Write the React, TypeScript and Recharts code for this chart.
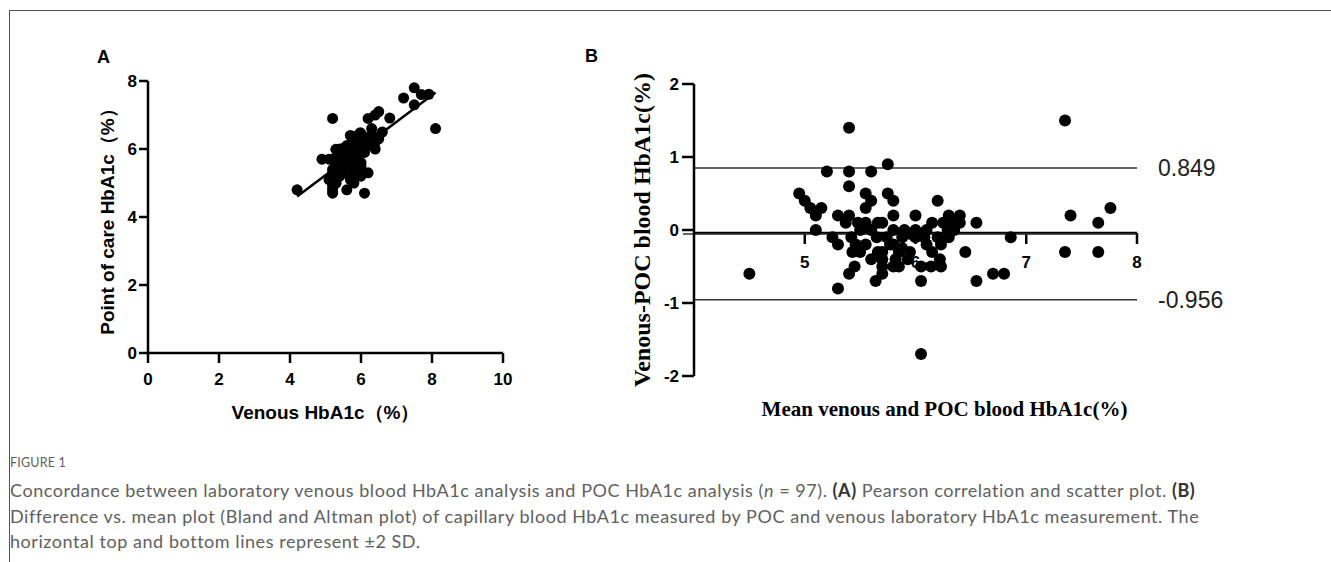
import React from 'react';
import { ScatterChart, Scatter, XAxis, YAxis, ReferenceLine } from 'recharts';

// Panel B (Bland-Altman): mean of venous and POC vs difference venous - POC
const meanVals = [
  4.50, 5.40, 5.20, 5.40, 5.60, 5.75, 5.40, 4.95, 5.00, 5.05,
  5.10, 5.15, 5.10, 5.55, 5.60, 5.55, 5.30, 5.40, 5.75, 5.80,
  5.80, 5.25, 5.30, 5.42, 5.46, 5.43, 5.45, 5.40, 5.30, 5.48,
  5.55, 5.60, 5.66, 5.37, 5.50, 5.60, 5.66, 5.70, 5.70, 5.64,
  6.00, 6.00, 6.00, 5.85, 5.85, 5.93, 6.05, 6.05, 6.05, 6.20,
  6.30, 6.40, 6.25, 6.33, 6.55, 6.45, 6.55, 6.70, 6.15, 6.22,
  6.14, 6.23, 7.35, 7.40, 7.65, 7.76, 7.35, 7.65, 6.86, 6.80,
  6.23, 6.30, 6.29, 6.20, 5.95, 5.88, 5.80, 5.74, 5.80, 5.70,
  5.88, 6.08, 5.77, 5.82, 5.80, 5.70, 6.10, 6.15, 5.50, 5.90,
  5.65, 6.35, 6.40, 5.95, 6.10, 5.55, 5.70,
];
const diffVals = [
  -0.60, 1.40, 0.80, 0.80, 0.80, 0.90, 0.60, 0.50, 0.40, 0.30,
  0.20, 0.30, 0.00, 0.50, 0.40, 0.30, 0.20, 0.20, 0.50, 0.40,
  0.20, -0.10, -0.20, -0.10, -0.20, -0.30, -0.50, -0.60, -0.80, 0.10,
  0.10, 0.00, 0.10, 0.10, 0.00, -0.40, -0.30, -0.40, -0.60, -0.70,
  0.20, 0.00, -0.10, -0.30, -0.50, -0.40, -0.50, -0.70, -1.70, 0.40,
  0.20, 0.20, 0.10, 0.10, 0.10, -0.30, -0.70, -0.60, -0.30, -0.40,
  -0.50, -0.50, 1.50, 0.20, 0.10, 0.30, -0.30, -0.30, -0.10, -0.60,
  -0.20, -0.10, 0.00, -0.10, -0.05, -0.10, 0.00, -0.10, -0.20, -0.30,
  -0.25, -0.10, -0.20, -0.40, -0.50, -0.50, 0.00, 0.10, -0.30, 0.00,
  -0.10, 0.00, 0.10, -0.30, -0.20, -0.20, 0.10,
];

// Panel A: venous vs point of care HbA1c
const venousVals = [
  4.20, 6.10, 5.60, 5.80, 6.00, 6.20, 5.70, 5.20, 5.20, 5.20,
  5.20, 5.30, 5.10, 5.80, 5.80, 5.70, 5.40, 5.50, 6.00, 6.00,
  5.90, 5.20, 5.20, 5.37, 5.36, 5.28, 5.20, 5.10, 4.90, 5.53,
  5.60, 5.60, 5.71, 5.42, 5.50, 5.40, 5.51, 5.50, 5.40, 5.29,
  6.10, 6.00, 5.95, 5.70, 5.60, 5.73, 5.80, 5.70, 5.20, 6.40,
  6.40, 6.50, 6.30, 6.38, 6.60, 6.30, 6.20, 6.40, 6.00, 6.02,
  5.89, 5.98, 8.10, 7.50, 7.70, 7.91, 7.20, 7.50, 6.81, 6.50,
  6.13, 6.25, 6.29, 6.15, 5.93, 5.83, 5.80, 5.69, 5.70, 5.55,
  5.76, 6.03, 5.67, 5.62, 5.55, 5.45, 6.10, 6.20, 5.35, 5.90,
  5.60, 6.35, 6.45, 5.80, 6.00, 5.45, 5.75,
];
const pocVals = [
  4.80, 4.70, 4.80, 5.00, 5.20, 5.30, 5.10, 4.70, 4.80, 4.90,
  5.00, 5.00, 5.10, 5.30, 5.40, 5.40, 5.20, 5.30, 5.50, 5.60,
  5.70, 5.30, 5.40, 5.47, 5.56, 5.58, 5.70, 5.70, 5.70, 5.43,
  5.50, 5.60, 5.61, 5.32, 5.50, 5.80, 5.81, 5.90, 6.00, 5.99,
  5.90, 6.00, 6.05, 6.00, 6.10, 6.13, 6.30, 6.40, 6.90, 6.00,
  6.20, 6.30, 6.20, 6.28, 6.50, 6.60, 6.90, 7.00, 6.30, 6.42,
  6.39, 6.48, 6.60, 7.30, 7.60, 7.61, 7.50, 7.80, 6.91, 7.10,
  6.33, 6.35, 6.29, 6.25, 5.98, 5.93, 5.80, 5.79, 5.90, 5.85,
  6.01, 6.13, 5.87, 6.02, 6.05, 5.95, 6.10, 6.10, 5.65, 5.90,
  5.70, 6.35, 6.35, 6.10, 6.20, 5.65, 5.65,
];

// regression line end points (panel A)
const fitX = [4.2, 8.1];
const fitY = [4.6, 7.66];

const upperLimit = 0.849;
const lowerLimit = -0.956;
const meanBias = -0.054;

const ticksAX = [0, 2, 4, 6, 8, 10];
const ticksAY = [0, 2, 4, 6, 8];
const ticksBX = [5, 6, 7, 8];
const ticksBY = [-2, -1, 0, 1, 2];

const dataA = venousVals.map((v, i) => ({ x: v, y: pocVals[i] }));
const dataB = meanVals.map((m, i) => ({ x: m, y: diffVals[i] }));

const SANS = '"Liberation Sans", Arial, sans-serif';
const SERIF = '"Liberation Serif", "Times New Roman", serif';

const dot = (r: number) => (p: any) => <circle cx={p.cx} cy={p.cy} r={r} fill="#000" />;
const noDot = () => <g />;

const tickStyle = { fontFamily: SANS, fontWeight: 700, fontSize: 17, fill: '#000' };
const axisLine = { stroke: '#000', strokeWidth: 2.5 };

const App = () => {
  return (
    <div style={{ position: 'absolute', left: 0, top: 0, width: 1331, height: 562, background: '#fff', overflow: 'hidden' }}>
      {/* frame */}
      <div style={{ position: 'absolute', left: 9, top: 10, width: 1330, height: 560, borderTop: '1px solid #555', borderLeft: '1px solid #555' }} />

      <div style={{ position: 'absolute', left: 97, top: 48, fontFamily: SANS, fontWeight: 700, fontSize: 18, lineHeight: 1 }}>A</div>
      <div style={{ position: 'absolute', left: 585, top: 47, fontFamily: SANS, fontWeight: 700, fontSize: 18, lineHeight: 1 }}>B</div>

      {/* Panel A */}
      <div style={{ position: 'absolute', left: 0, top: 0 }}>
        <ScatterChart width={560} height={440} margin={{ top: 81, right: 57, bottom: 17, left: 88 }}>
          <XAxis
            type="number" dataKey="x" domain={[0, 10]} ticks={ticksAX} height={70}
            axisLine={axisLine} tickLine={axisLine} tickSize={10} tickMargin={10} tick={tickStyle}
            label={{ value: 'Venous HbA1c（%）', position: 'insideBottom', offset: 4, style: { fontFamily: SANS, fontWeight: 700, fontSize: 19, fill: '#000' } }}
          />
          <YAxis
            type="number" dataKey="y" domain={[0, 8]} ticks={ticksAY} width={60}
            axisLine={axisLine} tickLine={axisLine} tickSize={9} tickMargin={2} tick={tickStyle}
            label={{ value: 'Point of care HbA1c（%）', angle: -90, position: 'insideLeft', offset: 19, style: { textAnchor: 'middle', fontFamily: SANS, fontWeight: 700, fontSize: 19, fill: '#000' } }}
          />
          <ReferenceLine
            segment={[{ x: fitX[0], y: fitY[0] }, { x: fitX[1], y: fitY[1] }]}
            stroke="#000" strokeWidth={2.5} ifOverflow="visible"
          />
          <Scatter data={dataA} shape={dot(5.5)} isAnimationActive={false} />
        </ScatterChart>
      </div>

      {/* Panel B: x axis drawn at y = 0 (behind the points) */}
      <div style={{ position: 'absolute', left: 560, top: 0 }}>
        <ScatterChart width={771} height={440} margin={{ top: 84, right: 194, bottom: 17, left: 134 }}>
          <XAxis
            type="number" dataKey="x" domain={[4, 8]} ticks={ticksBX} height={190}
            axisLine={axisLine} tickLine={axisLine} tickSize={11} tickMargin={12} tick={tickStyle}
            label={{ value: 'Mean venous and POC blood HbA1c(%)', position: 'insideBottom', offset: 7, dx: 29, style: { fontFamily: SERIF, fontWeight: 700, fontSize: 21, fill: '#000' } }}
          />
          <YAxis type="number" dataKey="y" domain={[0, 2]} hide />
          <Scatter data={dataB} shape={noDot} isAnimationActive={false} />
        </ScatterChart>
      </div>

      {/* Panel B: points, limits and y axis */}
      <div style={{ position: 'absolute', left: 560, top: 0 }}>
        <ScatterChart width={771} height={440} margin={{ top: 84, right: 194, bottom: 64, left: 54 }}>
          <XAxis type="number" dataKey="x" domain={[4, 8]} hide />
          <YAxis
            type="number" dataKey="y" domain={[-2, 2]} ticks={ticksBY} width={80}
            axisLine={axisLine} tickLine={axisLine} tickSize={12} tickMargin={3} tick={tickStyle}
            label={{ value: 'Venous-POC blood HbA1c(%)', angle: -90, position: 'insideLeft', offset: 27, style: { textAnchor: 'middle', fontFamily: SERIF, fontWeight: 700, fontSize: 24, fill: '#000' } }}
          />
          <ReferenceLine
            segment={[{ x: 4, y: upperLimit }, { x: 8, y: upperLimit }]}
            stroke="#333" strokeWidth={1.5} ifOverflow="visible"
            label={{ value: '0.849', position: 'right', offset: 21, style: { fontFamily: SANS, fontSize: 23, fill: '#222' } }}
          />
          <ReferenceLine
            segment={[{ x: 3.9, y: meanBias }, { x: 8, y: meanBias }]}
            stroke="#333" strokeWidth={1.5} ifOverflow="visible"
          />
          <ReferenceLine
            segment={[{ x: 4, y: lowerLimit }, { x: 8, y: lowerLimit }]}
            stroke="#333" strokeWidth={1.5} ifOverflow="visible"
            label={{ value: '-0.956', position: 'right', offset: 21, style: { fontFamily: SANS, fontSize: 23, fill: '#222' } }}
          />
          <Scatter data={dataB} shape={dot(6)} isAnimationActive={false} />
        </ScatterChart>
      </div>

      {/* caption */}
      <div style={{ position: 'absolute', left: 10, top: 455, fontFamily: 'Lato, sans-serif', color: '#606060', whiteSpace: 'nowrap' }}>
        <div style={{ fontSize: 12.5, lineHeight: '16px', letterSpacing: 0.2, marginBottom: 7 }}>FIGURE 1</div>
        <div style={{ fontSize: 18, lineHeight: '25.5px', letterSpacing: 0.55 }}>
          <div>Concordance between laboratory venous blood HbA1c analysis and POC HbA1c analysis (<i>n</i> = 97). <b style={{ color: '#333' }}>(A)</b> Pearson correlation and scatter plot. <b style={{ color: '#333' }}>(B)</b></div>
          <div>Difference vs. mean plot (Bland and Altman plot) of capillary blood HbA1c measured by POC and venous laboratory HbA1c measurement. The</div>
          <div>horizontal top and bottom lines represent ±2 SD.</div>
        </div>
      </div>
    </div>
  );
};

export default App;
